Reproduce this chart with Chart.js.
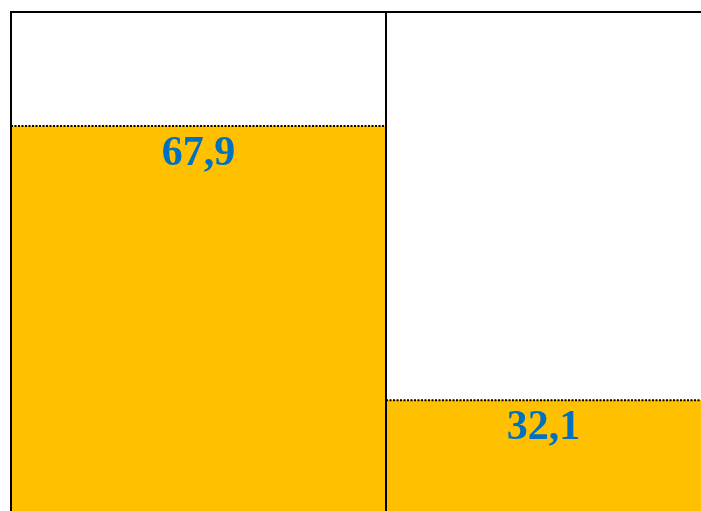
<!DOCTYPE html>
<html>
<head>
<meta charset="utf-8">
<script src="https://cdn.jsdelivr.net/npm/chart.js@4"></script>
<style>
  html, body { margin: 0; padding: 0; background: #fff; overflow: hidden; }
  #wrap { width: 780px; height: 660px; }
</style>
</head>
<body>
<div id="wrap"><canvas id="chart"></canvas></div>
<script>
// values
const categories = ["A", "B"]
const shares = [67.9, 32.1]

const barcolor = "#FFC000"
const labelcolor = "#0070C0"

// frame lines, dotted bar tops and the value labels
const framePlugin = {
    id: "frame",
    afterDatasetsDraw(chart) {
        const ctx = chart.ctx
        const area = chart.chartArea
        const bars = chart.getDatasetMeta(0).data
        ctx.save()

        // dotted line on top of each bar
        ctx.strokeStyle = "#000"
        ctx.lineWidth = 2
        ctx.setLineDash([2, 1.5])
        bars.forEach(bar => {
            ctx.beginPath()
            ctx.moveTo(bar.x - bar.width / 2, bar.y)
            ctx.lineTo(bar.x + bar.width / 2, bar.y)
            ctx.stroke()
        })
        ctx.setLineDash([])

        // top and left border
        ctx.beginPath()
        ctx.moveTo(area.left, area.bottom)
        ctx.lineTo(area.left, area.top)
        ctx.lineTo(area.right, area.top)
        ctx.stroke()

        // separators between bars
        const xs = chart.scales.x
        for (let i = 1; i < categories.length; i++) {
            const sx = (xs.getPixelForValue(i - 1) + xs.getPixelForValue(i)) / 2
            ctx.beginPath()
            ctx.moveTo(sx, area.top)
            ctx.lineTo(sx, area.bottom)
            ctx.stroke()
        }

        // labels, centred in the part of the bar that is on screen
        ctx.fillStyle = labelcolor
        ctx.font = "bold 42px 'Liberation Serif', 'Times New Roman', serif"
        ctx.textAlign = "center"
        ctx.textBaseline = "alphabetic"
        bars.forEach((bar, i) => {
            const left = bar.x - bar.width / 2
            const right = Math.min(bar.x + bar.width / 2, window.innerWidth)
            const txt = shares[i].toFixed(1).replace(".", ",")
            ctx.fillText(txt, (left + right) / 2, bar.y + 39)
        })
        ctx.restore()
    }
}

new Chart(document.getElementById("chart"), {
    type: "bar",
    data: {
        labels: categories,
        datasets: [{
            data: shares,
            backgroundColor: barcolor,
            borderWidth: 0,
            barPercentage: 1,
            categoryPercentage: 1
        }]
    },
    options: {
        responsive: true,
        maintainAspectRatio: false,
        animation: false,
        layout: { padding: { top: 12, left: 11, right: 19, bottom: 14 } },
        plugins: {
            legend: { display: false },
            tooltip: { enabled: false }
        },
        scales: {
            x: { display: false },
            y: { display: false, min: 0, max: 82.8 }
        }
    },
    plugins: [framePlugin]
});
</script>
</body>
</html>
